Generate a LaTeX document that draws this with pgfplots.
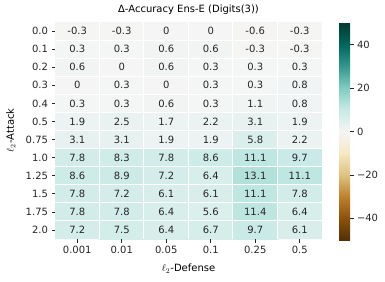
\documentclass[border=0pt]{standalone}
\usepackage{fontspec}
\setmainfont{DejaVu Sans}
\usepackage{pgfplots}
\pgfplotsset{compat=1.18}
\definecolor{txt}{RGB}{38,38,38}
\begin{document}
\begin{tikzpicture}
\useasboundingbox (0,0) rectangle (385bp,282bp);
\begin{axis}[
  at={(55bp,43bp)}, anchor=south west,
  scale only axis, width=267bp, height=217bp,
  xmin=-0.5, xmax=5.5, ymin=-0.5, ymax=11.5,
  y dir=reverse,
  font=\fontsize{10bp}{12bp}\selectfont,
  /pgf/number format/assume math mode=true,
  axis line style={draw=none},
  axis on top,
  xtick={0,1,2,3,4,5},
  xticklabels={0.001,0.01,0.05,0.1,0.25,0.5},
  ytick={0,1,2,3,4,5,6,7,8,9,10,11},
  yticklabels={0.0,0.1,0.2,0.3,0.4,0.5,0.75,1.0,1.25,1.5,1.75,2.0},
  tick align=outside, major tick length=3.5bp,
  tick style={txt, line width=0.6bp},
  xtick pos=bottom, ytick pos=left,
  tick label style={text=txt},
  extra x ticks={0.5,1.5,2.5,3.5,4.5},
  extra y ticks={0.5,1.5,2.5,3.5,4.5,5.5,6.5,7.5,8.5,9.5,10.5},
  extra x tick labels={}, extra y tick labels={},
  extra tick style={grid=major, major grid style={white, line width=1bp}, major tick length=0pt},
  title={Δ-Accuracy Ens-E (Digits(3))},
  title style={yshift=-2bp},
  xlabel={$\ell_2$-Defense},
  ylabel={$\ell_2$-Attack},
  colormap={brbg}{rgb255=(84,48,5) rgb255=(140,81,10) rgb255=(191,129,45) rgb255=(223,194,125) rgb255=(246,232,195) rgb255=(245,245,245) rgb255=(199,234,229) rgb255=(128,205,193) rgb255=(53,151,143) rgb255=(1,102,94) rgb255=(0,60,48)},
  point meta min=-50, point meta max=50,
  colorbar,
  colorbar style={
    at={(parent axis.north east)}, anchor=north west,
    xshift=8.5bp, yshift=-1bp,
    width=11bp, height=217bp,
    axis line style={draw=none},
    ytick={-40,-20,0,20,40},
    yticklabels={−40,−20,0,20,40},
    yticklabel pos=right,
    tick align=outside, major tick length=3.5bp,
    tick style={txt, line width=0.6bp},
    ytick pos=right,
  },
  nodes near coords={\pgfmathprintnumber[fixed,precision=1,assume math mode=true]{\pgfplotspointmeta}},
  nodes near coords align={center},
  every node near coord/.append style={text=txt, font=\fontsize{10bp}{12bp}\selectfont},
]
\addplot[matrix plot*, mesh/cols=6, point meta=explicit] table[meta=c] {
x y c
0 0 -0.3
1 0 -0.3
2 0 0
3 0 0
4 0 -0.6
5 0 -0.3
0 1 0.3
1 1 0.3
2 1 0.6
3 1 0.6
4 1 -0.3
5 1 -0.3
0 2 0.6
1 2 0
2 2 0.6
3 2 0.3
4 2 0.3
5 2 0.3
0 3 0
1 3 0.3
2 3 0
3 3 0.3
4 3 0.3
5 3 0.8
0 4 0.3
1 4 0.3
2 4 0.6
3 4 0.3
4 4 1.1
5 4 0.8
0 5 1.9
1 5 2.5
2 5 1.7
3 5 2.2
4 5 3.1
5 5 1.9
0 6 3.1
1 6 3.1
2 6 1.9
3 6 1.9
4 6 5.8
5 6 2.2
0 7 7.8
1 7 8.3
2 7 7.8
3 7 8.6
4 7 11.1
5 7 9.7
0 8 8.6
1 8 8.9
2 8 7.2
3 8 6.4
4 8 13.1
5 8 11.1
0 9 7.8
1 9 7.2
2 9 6.1
3 9 6.1
4 9 11.1
5 9 7.8
0 10 7.8
1 10 7.8
2 10 6.4
3 10 5.6
4 10 11.4
5 10 6.4
0 11 7.2
1 11 7.5
2 11 6.4
3 11 6.7
4 11 9.7
5 11 6.1
};
\end{axis}
\end{tikzpicture}
\end{document}
